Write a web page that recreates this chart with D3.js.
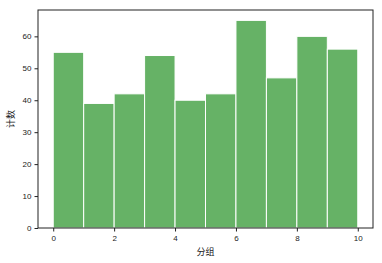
<!DOCTYPE html>
<html>
<head>
<meta charset="utf-8">
<script src="https://cdn.jsdelivr.net/npm/d3@7"></script>
<style>
  body { margin: 0; background: #fff; }
  svg { display: block; }
  .tick text { font-family: "Liberation Sans", Arial, sans-serif; font-size: 8px; fill: #222; }
  .label { font-family: "Noto Sans CJK SC", sans-serif; font-size: 9px; fill: #222; }
</style>
</head>
<body>
<svg id="chart" width="382" height="263"></svg>
<script>
// histogram bins: left edges and counts
const binEdges = [0, 1, 2, 3, 4, 5, 6, 7, 8, 9, 10];
const counts = [55, 39, 42, 54, 40, 42, 65, 47, 60, 56];
const xTicks = [0, 2, 4, 6, 8, 10];
const yTicks = [0, 10, 20, 30, 40, 50, 60];

const margin = { top: 10, right: 9, bottom: 35, left: 38 },
      width = 382 - margin.left - margin.right,
      height = 263 - margin.top - margin.bottom;

const svg = d3.select("#chart")
    .append("g")
    .attr("transform", `translate(${margin.left},${margin.top})`);

const x = d3.scaleLinear().domain([-0.5, 10.5]).range([0, width]);
const y = d3.scaleLinear().domain([0, 65 * 1.05]).range([height, 0]);

const bins = counts.map((c, i) => ({ x0: binEdges[i], x1: binEdges[i + 1], n: c }));

svg.selectAll(".bar")
    .data(bins)
    .enter().append("rect")
    .attr("class", "bar")
    .attr("x", d => x(d.x0))
    .attr("y", d => y(d.n))
    .attr("width", d => x(d.x1) - x(d.x0))
    .attr("height", d => y(0) - y(d.n))
    .attr("fill", "#66b266")
    .attr("stroke", "#fff")
    .attr("stroke-width", 1);

// frame
svg.append("rect")
    .attr("x", 0).attr("y", 0)
    .attr("width", width).attr("height", height)
    .attr("fill", "none")
    .attr("stroke", "#222")
    .attr("stroke-width", 1);

svg.append("g")
    .attr("transform", `translate(0,${height})`)
    .call(d3.axisBottom(x).tickValues(xTicks).tickSize(3.5).tickPadding(4).tickFormat(d3.format("d")))
    .call(g => g.select(".domain").remove())
    .call(g => g.selectAll("line").attr("stroke", "#222"));

svg.append("g")
    .call(d3.axisLeft(y).tickValues(yTicks).tickSize(3.5).tickPadding(3).tickFormat(d3.format("d")))
    .call(g => g.select(".domain").remove())
    .call(g => g.selectAll("line").attr("stroke", "#222"));

svg.append("text")
    .attr("class", "label")
    .attr("x", width / 2)
    .attr("y", height + 27)
    .attr("text-anchor", "middle")
    .text("分组");

svg.append("text")
    .attr("class", "label")
    .attr("transform", "rotate(-90)")
    .attr("x", -height / 2)
    .attr("y", -24)
    .attr("text-anchor", "middle")
    .text("计数");
</script>
</body>
</html>
